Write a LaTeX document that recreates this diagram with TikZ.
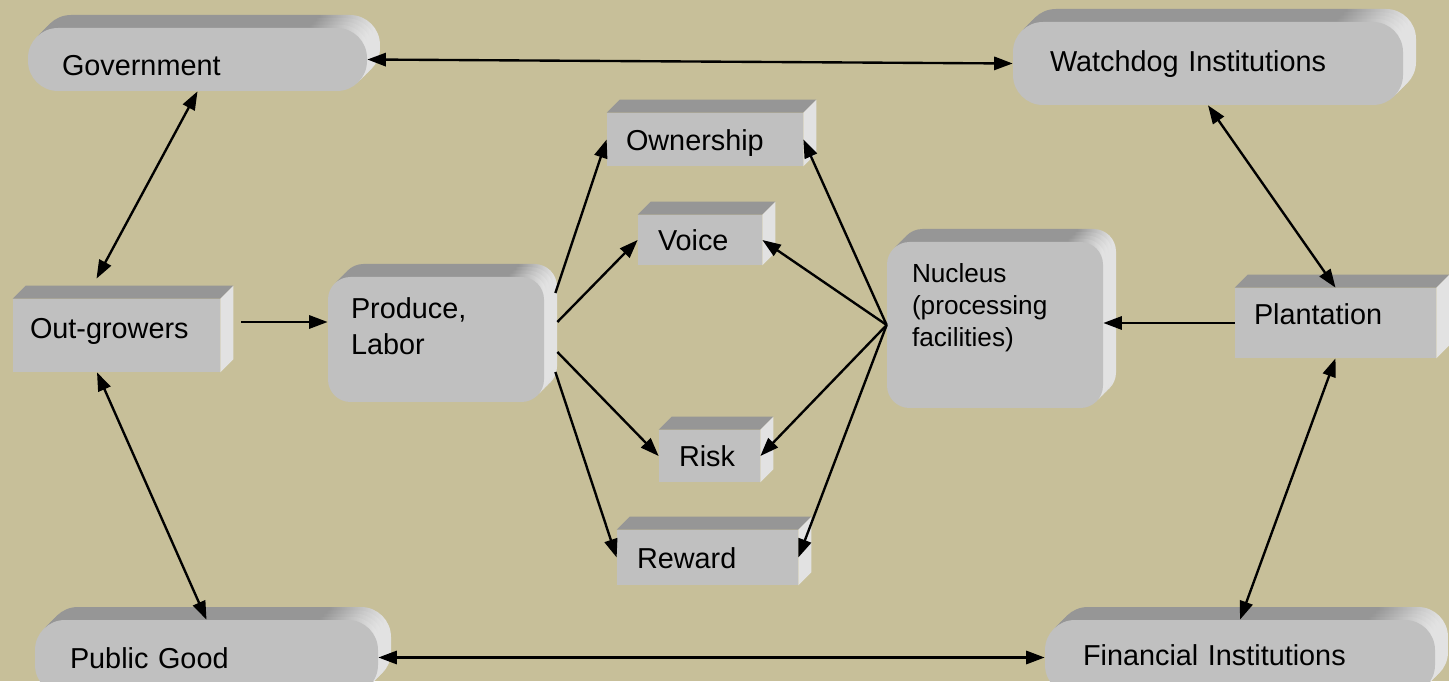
\documentclass[tikz,border=0pt]{standalone}
\usepackage{fontspec}
\setmainfont{Liberation Sans}
\usepackage{tikz}
\usetikzlibrary{arrows.meta}

\definecolor{tanbg}{RGB}{199,191,153}
\definecolor{frontface}{RGB}{192,192,192}
\definecolor{topface}{RGB}{150,150,150}
\definecolor{sideface}{RGB}{226,226,226}
\pgfdeclarehorizontalshading{sidefade}{100bp}{color(0bp)=(topface); color(66bp)=(topface); color(74bp)=(sideface); color(100bp)=(sideface)}
\newcommand{\dep}{0.26}
\newcommand{\mainsize}{\fontsize{16.4}{20.7}\selectfont}
\newcommand{\smallsize}{\fontsize{14.9}{18.4}\selectfont}

\tikzset{every edge/.style={draw,->,line width=1.35pt},
	>={Triangle[length=10.5pt,width=7.5pt]},
	lift/.style={preaction={draw=none,shade,shading=sidefade,transform canvas={shift={(#1*\dep,#1*\dep)}}}}}
\tikzstyle{face}=[rectangle,fill=frontface,inner ysep=0pt,text height=12pt,text depth=0pt,align=left,font=\mainsize]
\tikzstyle{block}=[face]
\tikzstyle{pill}=[face,rounded corners=0.6cm,lift=1,lift=0.75,lift=0.5,lift=0.25]
\tikzstyle{slab}=[face,rounded corners=0.45cm,lift=1,lift=0.75,lift=0.5,lift=0.25]

\begin{document}
\begin{tikzpicture}
	\useasboundingbox (0,0) rectangle (28.98,13.62);
	\clip (0,0) rectangle (28.98,13.62);
	\fill[tanbg] (0,0) rectangle (28.98,13.62);
	\node at (3.95,12.43) [pill,text width=5.42cm,inner xsep=0.68cm,minimum height=1.26cm,text height=18.2pt] (gov) {Government};
	\node at (24.16,12.35) [pill,text width=6.32cm,inner xsep=0.74cm,minimum height=1.66cm,text depth=3.4pt] (watch) {Watchdog Institutions};
	\node at (4.13,0.47) [pill,text width=5.46cm,inner xsep=0.7cm,minimum height=1.5cm] (pub) {Public Good};
	\node at (24.8,0.47) [pill,text width=6.28cm,inner xsep=0.76cm,minimum height=1.5cm,text depth=3.4pt] (fin) {Financial Institutions};
	\node at (2.33,6.91) [block,text width=3.46cm,inner xsep=0.34cm,minimum height=1.46cm,text depth=9pt] (grow) {Out-growers};
	\node at (8.72,6.83) [slab,text width=3.4cm,inner xsep=0.46cm,minimum height=2.5cm,text depth=36.4pt] (prod) {Produce,\\Labor};
	\node at (14.1,10.83) [block,text width=3.16cm,inner xsep=0.38cm,minimum height=1.06cm] (own) {Ownership};
	\node at (14.0,8.82) [block,text width=1.68cm,inner xsep=0.4cm,minimum height=1cm] (voice) {Voice};
	\node at (14.19,4.5) [block,text width=1.22cm,inner xsep=0.4cm,minimum height=1.04cm] (risk) {Risk};
	\node at (14.15,2.47) [block,text width=2.82cm,inner xsep=0.4cm,minimum height=1.1cm] (reward) {Reward};
	\node at (19.9,7.12) [slab,text width=3.32cm,inner xsep=0.5cm,minimum height=3.32cm,font=\smallsize,text depth=60.8pt] (nuc) {Nucleus\\(processing\\facilities)};
	\node at (26.71,7.16) [block,text width=3.26cm,inner xsep=0.38cm,minimum height=1.4cm,text depth=10.2pt] (plant) {Plantation};
	% top and side faces of the boxes
	\foreach \n in {grow,own,voice,risk,reward,plant}{
		\fill[topface] (\n.north west) -- ++(\dep,\dep) -- ([shift={(\dep,\dep)}]\n.north east) -- (\n.north east) -- cycle;
		\fill[sideface] (\n.north east) -- ++(\dep,\dep) -- ([shift={(\dep,\dep)}]\n.south east) -- (\n.south east) -- cycle;
	}
	\coordinate (gout) at (4.82,7.18);
	\draw (gov.east) edge[<->] (watch.west);
	\draw (gov.south) edge[<->] ([shift={(-0.4,0.4)}]grow.north);
	\draw ([xshift=-0.39cm]grow.south) edge[<->] (pub.north);
	\draw (pub.east) edge[<->] (fin.west);
	\draw (watch.south) edge[<->] (plant.north);
	\draw (plant.south) edge[<->] (fin.north);
	\draw (gout) edge (gout -| prod.west);
	\draw (plant.west) edge (plant.west -| nuc.east);
	\draw ([shift={(0.22,0.93)}]prod.east) edge (own.west);
	\draw ([shift={(0.26,0.35)}]prod.east) edge (voice.west);
	\draw ([shift={(0.26,-0.25)}]prod.east) edge (risk.west);
	\draw ([shift={(0.22,-0.65)}]prod.east) edge (reward.west);
	\draw (nuc.west) edge (own.east);
	\draw (nuc.west) edge (voice.east);
	\draw (nuc.west) edge (risk.east);
	\draw (nuc.west) edge (reward.east);
\end{tikzpicture}
\end{document}
